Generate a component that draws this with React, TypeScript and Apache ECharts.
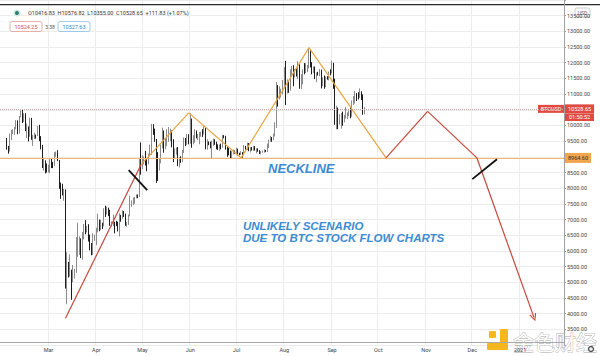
import React, { useEffect, useRef } from 'react';
import * as echarts from 'echarts';

// ---- axis / categories ----
const FIRST_DAY_UTC = Date.UTC(2020, 0, 30);
const DAY_COUNT = 366;
const CANDLE_START = '2020-02-03';
const FIRST_OPEN = 9340;
const MONTHS = ['2021', 'Feb', 'Mar', 'Apr', 'May', 'Jun', 'Jul', 'Aug', 'Sep', 'Oct', 'Nov', 'Dec'];
const Y_MIN = 3000;
const Y_MAX = 14000;
const Y_STEP = 500;

// ---- daily BTCUSD (Feb 3 – Sep 22, 2020) ----
const febClose = [9290, 9180, 9610, 9730, 9800, 9900, 10150, 9850, 10270, 10350, 10240, 10360, 9900, 9930, 9700, 10170, 9600, 9600, 9690, 9670, 9970, 9650, 9320, 8790, 8790, 8690, 8530];
const febHigh = [9600, 9350, 9740, 9860, 9880, 9950, 10170, 10160, 10300, 10480, 10520, 10390, 10390, 10060, 9970, 10250, 10240, 9700, 9770, 9710, 9990, 10020, 9660, 9380, 8970, 8890, 8790];
const febLow = [9230, 9100, 9170, 9530, 9720, 9700, 9880, 9720, 9740, 10260, 10080, 10110, 9820, 9600, 9490, 9640, 9540, 9350, 9570, 9580, 9660, 9500, 9240, 8640, 8560, 8470, 8500];

const marClose = [8530, 8910, 8760, 8750, 9070, 9150, 8900, 8030, 7930, 7900, 7910, 4970, 5560, 5200, 5390, 5010, 5230, 5390, 6190, 6190, 6190, 5830, 6460, 6740, 6680, 6730, 6470, 6240, 5880, 6390, 6410];
const marHigh = [8750, 8950, 8960, 8840, 9150, 9170, 9210, 8900, 8180, 8140, 7980, 7960, 5960, 5650, 5890, 5400, 5550, 5430, 6440, 6900, 6460, 6400, 6600, 6860, 6980, 6790, 6850, 6520, 6250, 6560, 6520];
const marLow = [8500, 8480, 8640, 8640, 8700, 9000, 8860, 7980, 7660, 7770, 7600, 4800, 4300, 5150, 5180, 4440, 5000, 5120, 5300, 5810, 5870, 5770, 5720, 6370, 6530, 6590, 6300, 6020, 5860, 5870, 6320];

const aprClose = [6640, 6790, 6730, 6860, 6790, 7270, 7180, 7340, 7300, 6860, 6880, 6910, 6860, 6840, 6630, 7100, 7040, 7250, 7120, 6830, 6850, 7130, 7480, 7510, 7540, 7700, 7790, 7760, 8790, 8620];
const aprHigh = [6740, 7190, 7000, 6990, 6900, 7360, 7440, 7410, 7380, 7310, 6940, 7160, 6930, 6960, 6930, 7200, 7150, 7300, 7270, 7190, 6920, 7160, 7760, 7610, 7700, 7720, 7800, 7800, 8950, 9460];
const aprLow = [6180, 6590, 6630, 6660, 6700, 6780, 7080, 7160, 7110, 6800, 6780, 6790, 6560, 6790, 6620, 6460, 6930, 7020, 7080, 6800, 6770, 6830, 7100, 7410, 7460, 7500, 7680, 7680, 7720, 8430];

const mayClose = [8830, 8970, 8900, 8880, 9030, 9150, 9990, 9810, 9540, 8730, 8570, 8820, 9320, 9790, 9310, 9380, 9670, 9730, 9780, 9510, 9060, 9170, 9180, 8720, 8900, 8840, 9200, 9580, 9430, 9700, 9450];
const mayHigh = [9050, 9010, 9190, 8950, 9100, 9390, 10050, 10040, 9900, 9570, 9150, 8960, 9400, 9930, 9840, 9600, 9880, 9950, 9900, 9840, 9560, 9270, 9300, 9310, 8980, 9020, 9220, 9620, 9600, 9730, 9720];
const mayLow = [8610, 8760, 8720, 8540, 8760, 9010, 9060, 9700, 9480, 8170, 8230, 8560, 8790, 9270, 9130, 9240, 9340, 9480, 9500, 9300, 8830, 8960, 9070, 8700, 8660, 8810, 8830, 9120, 9340, 9380, 9400];

const junClose = [10200, 9520, 9660, 9800, 9660, 9670, 9750, 9780, 9770, 9880, 9320, 9480, 9470, 9340, 9430, 9520, 9460, 9380, 9300, 9360, 9290, 9680, 9620, 9290, 9250, 9160, 9010, 9120, 9190, 9140];
const junHigh = [10390, 10220, 9690, 9880, 9840, 9730, 9790, 9800, 9880, 9990, 9940, 9560, 9490, 9480, 9510, 9580, 9560, 9480, 9400, 9390, 9420, 9700, 9690, 9670, 9320, 9290, 9200, 9180, 9230, 9200];
const junLow = [9420, 9290, 9400, 9450, 9590, 9530, 9400, 9640, 9630, 9710, 9240, 9230, 9370, 9270, 8950, 9340, 9380, 9240, 9220, 9190, 9240, 9280, 9590, 9230, 9000, 9050, 8960, 8930, 9080, 9100];

const julClose = [9230, 9090, 9070, 9130, 9080, 9340, 9250, 9430, 9240, 9290, 9240, 9300, 9240, 9250, 9190, 9130, 9160, 9170, 9210, 9160, 9390, 9530, 9610, 9550, 9710, 9930, 11030, 10910, 11100, 11110, 11350];
const julHigh = [9290, 9260, 9130, 9180, 9150, 9370, 9350, 9450, 9440, 9310, 9310, 9340, 9340, 9270, 9270, 9210, 9190, 9200, 9240, 9220, 9420, 9550, 9670, 9630, 9740, 10100, 11380, 11290, 11250, 11170, 11450];
const julLow = [9090, 9040, 9050, 9060, 8970, 9070, 9230, 9220, 9180, 9140, 9200, 9190, 9200, 9110, 9160, 9090, 9080, 9130, 9130, 9150, 9150, 9280, 9480, 9480, 9530, 9650, 9920, 10600, 10830, 10890, 10990];

const augClose = [11800, 11070, 11230, 11190, 11740, 11760, 11590, 11750, 11680, 11880, 11410, 11580, 11780, 11770, 11860, 11910, 12280, 11950, 11750, 11870, 11530, 11680, 11650, 11750, 11330, 11470, 11330, 11540, 11470, 11710, 11680];
const augHigh = [11860, 12060, 11470, 11420, 11790, 11900, 11920, 11800, 11810, 12050, 11950, 11640, 11790, 11990, 11980, 11930, 12470, 12400, 12020, 11880, 11880, 11690, 11710, 11800, 11780, 11530, 11590, 11560, 11570, 11720, 11790];
const augLow = [11240, 10650, 11020, 11040, 11110, 11560, 11250, 11530, 11560, 11480, 11170, 11160, 11310, 11630, 11670, 11700, 11820, 11850, 11630, 11670, 11480, 11380, 11590, 11570, 11180, 11250, 11170, 11220, 11460, 11440, 11600];

const sepClose = [11970, 11410, 10170, 10470, 10170, 10260, 10370, 10130, 10230, 10350, 10400, 10440, 10330, 10680, 10790, 10950, 10940, 10930, 11080, 10920, 10416.83, 10528.65];
const sepHigh = [12060, 12000, 11490, 10630, 10570, 10360, 10400, 10440, 10340, 10590, 10420, 10480, 10570, 10800, 10940, 11100, 11030, 11060, 11180, 11090, 10990, 10576.82];
const sepLow = [11660, 11170, 10020, 9880, 9880, 10030, 9900, 9990, 10100, 10220, 10200, 10290, 10230, 10280, 10650, 10700, 10780, 10830, 10880, 10810, 10340, 10355];

// ---- price levels ----
const NECKLINE = 8964.6;
const LAST_PRICE = 10528.65;

// ---- drawn annotation paths: [date, price] ----
const redLeg: [string, number][] = [['2020-03-12', 3850], ['2020-04-30', 8750]];
const orangeLegs: [string, number][] = [['2020-04-30', 8750], ['2020-05-31', 10400], ['2020-07-04', NECKLINE], ['2020-08-17', 12480], ['2020-10-06', NECKLINE]];
const redProjection: [string, number][] = [['2020-10-06', NECKLINE], ['2020-11-02', 10450], ['2020-12-04', NECKLINE], ['2021-01-10', 3880]];
const crossA: [string, number][] = [['2020-04-22', 8573], ['2020-05-04', 7939]];
const crossB: [string, number][] = [['2020-12-01', 8288], ['2020-12-17', 8922]];

const closes = [...febClose, ...marClose, ...aprClose, ...mayClose, ...junClose, ...julClose, ...augClose, ...sepClose];
const highs = [...febHigh, ...marHigh, ...aprHigh, ...mayHigh, ...junHigh, ...julHigh, ...augHigh, ...sepHigh];
const lows = [...febLow, ...marLow, ...aprLow, ...mayLow, ...junLow, ...julLow, ...augLow, ...sepLow];

const days: string[] = [];
for (let i = 0; i < DAY_COUNT; i++) {
  days.push(new Date(FIRST_DAY_UTC + i * 86400000).toISOString().slice(0, 10));
}
const startIdx = days.indexOf(CANDLE_START);
const candleData = days.map((_, i) => {
  const k = i - startIdx;
  if (k < 0 || k >= closes.length) return '-';
  const open = k === 0 ? FIRST_OPEN : closes[k - 1];
  return [open, closes[k], lows[k], highs[k]];
});

const isMonthStart = (v: string) => v.endsWith('-01') && v !== '2020-02-01';

const CHEVRON = 'path://M5,0 L10,8 L8.6,8.8 L5,2.6 L1.4,8.8 L0,8 Z';

function segments(pts: [string, number][], color: string, width: number, arrowAtEnd = false) {
  const out: any[] = [];
  for (let i = 0; i < pts.length - 1; i++) {
    const last = arrowAtEnd && i === pts.length - 2;
    out.push([
      { coord: pts[i], symbol: 'none', lineStyle: { color, width, type: 'solid' }, label: { show: false } },
      last ? { coord: pts[i + 1], symbol: CHEVRON, symbolSize: [7, 8] } : { coord: pts[i + 1], symbol: 'none' },
    ]);
  }
  return out;
}

export default function App() {
  const ref = useRef<HTMLDivElement>(null);
  useEffect(() => {
    document.body.style.margin = '0';
    if (!ref.current) return;
    const chart = echarts.init(ref.current, undefined, { renderer: 'svg' });
    const font = 'Roboto';
    chart.setOption({
      animation: false,
      backgroundColor: '#ffffff',
      grid: { left: 0, right: 36, top: -2, bottom: 11 },
      xAxis: {
        type: 'category',
        data: days,
        boundaryGap: true,
        offset: -3,
        axisLine: { lineStyle: { color: '#a8a8a8' } },
        axisTick: { show: false },
        axisLabel: {
          interval: (_i: number, v: string) => isMonthStart(v),
          formatter: (v: string) => MONTHS[parseInt(v.slice(5, 7), 10) - 1],
          fontSize: 5.5,
          color: '#444',
          margin: 5,
          fontFamily: font,
        },
        splitLine: { show: true, interval: (_i: number, v: string) => isMonthStart(v), lineStyle: { color: '#ececec', width: 1 } },
      },
      yAxis: {
        type: 'value',
        position: 'right',
        min: Y_MIN,
        max: Y_MAX,
        interval: Y_STEP,
        axisLine: { show: true, lineStyle: { color: '#a0a0a0' } },
        axisTick: { show: true, length: 2, lineStyle: { color: '#a0a0a0' } },
        axisLabel: {
          fontSize: 5.5,
          color: '#444',
          margin: 3,
          fontFamily: font,
          formatter: (v: number) => (v === Y_MIN || v === Y_MAX ? '' : v.toFixed(2)),
        },
        splitLine: { lineStyle: { color: '#ececec', width: 1 } },
      },
      series: [
        {
          type: 'candlestick',
          data: candleData,
          barWidth: 1,
          itemStyle: { color: '#8c8c8c', color0: '#1e1e1e', borderColor: '#8c8c8c', borderColor0: '#1e1e1e', borderWidth: 1 },
          markLine: {
            silent: true,
            animation: false,
            symbol: ['none', 'none'],
            data: [
              {
                yAxis: LAST_PRICE,
                lineStyle: { color: '#cfa3a3', width: 1, type: 'dotted' },
                label: { show: true, position: 'end', distance: 1, formatter: LAST_PRICE.toFixed(2), color: '#fff', backgroundColor: '#e04a3f', padding: [1.5, 3, 1.5, 3], fontSize: 5.5, fontFamily: font },
              },
              {
                yAxis: NECKLINE,
                lineStyle: { color: '#f2b872', width: 1, type: 'solid' },
                label: { show: true, position: 'end', distance: 1, formatter: NECKLINE.toFixed(2), color: '#2b2b2b', backgroundColor: '#f3a54e', padding: [2, 3, 2, 3], fontSize: 5.5, fontFamily: font },
              },
              ...segments(redLeg, '#c8473b', 1.2),
              ...segments(orangeLegs, '#e8a541', 1.2),
              ...segments(redProjection, '#c8473b', 1.2, true),
              ...segments(crossA, '#111111', 1.8),
              ...segments(crossB, '#111111', 1.8),
            ],
          },
        },
      ],
    });

    const py = chart.convertToPixel({ yAxisIndex: 0 }, LAST_PRICE) as number;
    const blue = '#3c8bd3';
    chart.setOption({
      graphic: [
        { type: 'rect', shape: { x: 0, y: 4, width: 600, height: 1.3 }, style: { fill: '#2a2a2a' } },
        { type: 'circle', shape: { cx: 17, cy: 13, r: 3.5 }, style: { fill: '#cfe7e1' } },
        { type: 'circle', shape: { cx: 17, cy: 13, r: 2 }, style: { fill: '#2f7f6f' } },
        { type: 'text', x: 28, y: 13, style: { text: 'O10416.83  H10576.82  L10355.00  C10528.65  +111.83 (+1.07%)', fill: '#333', fontSize: 5.5, fontFamily: font, verticalAlign: 'middle' } },
        { type: 'rect', shape: { x: 10, y: 21.5, width: 32, height: 10, r: 2 }, style: { fill: '#fff', stroke: '#e29a95', lineWidth: 0.8 } },
        { type: 'text', x: 26, y: 26.5, style: { text: '10524.25', fill: '#d9534f', fontSize: 5.5, fontFamily: font, align: 'center', verticalAlign: 'middle' } },
        { type: 'text', x: 50, y: 26.5, style: { text: '3.38', fill: '#555', fontSize: 5, fontFamily: font, align: 'center', verticalAlign: 'middle' } },
        { type: 'rect', shape: { x: 58, y: 21.5, width: 32, height: 10, r: 2 }, style: { fill: '#fff', stroke: '#8cc0e0', lineWidth: 0.8 } },
        { type: 'text', x: 74, y: 26.5, style: { text: '10527.63', fill: '#2f8ac4', fontSize: 5.5, fontFamily: font, align: 'center', verticalAlign: 'middle' } },
        { type: 'rect', shape: { x: 575, y: 8, width: 15, height: 9, r: 2 }, style: { fill: '#fff', stroke: '#b8b8b8', lineWidth: 0.7 } },
        { type: 'text', x: 582.5, y: 12.5, style: { text: 'USD', fill: '#555', fontSize: 5, fontFamily: font, align: 'center', verticalAlign: 'middle' } },
        { type: 'rect', shape: { x: 538, y: py - 4, width: 26, height: 8 }, style: { fill: '#e04a3f' } },
        { type: 'text', x: 551, y: py, style: { text: 'BTCUSD', fill: '#fff', fontSize: 5.5, fontFamily: font, align: 'center', verticalAlign: 'middle' } },
        { type: 'rect', shape: { x: 565, y: py + 4.6, width: 29, height: 7.5 }, style: { fill: '#e04a3f' } },
        { type: 'text', x: 579.5, y: py + 8.4, style: { text: '01:50:52', fill: '#fff', fontSize: 5.5, fontFamily: font, align: 'center', verticalAlign: 'middle' } },
        { type: 'text', x: 268, y: 168, style: { text: 'NECKLINE', fill: blue, fontSize: 13, fontWeight: 'bold', fontStyle: 'italic', fontFamily: 'Liberation Sans', verticalAlign: 'middle' } },
        { type: 'text', x: 243, y: 226, style: { text: 'UNLIKELY SCENARIO', fill: blue, fontSize: 11.5, fontWeight: 'bold', fontStyle: 'italic', fontFamily: 'Liberation Sans', verticalAlign: 'middle' } },
        { type: 'text', x: 243, y: 238, style: { text: 'DUE TO BTC STOCK FLOW CHARTS', fill: blue, fontSize: 11.5, fontWeight: 'bold', fontStyle: 'italic', fontFamily: 'Liberation Sans', verticalAlign: 'middle' } },
        { type: 'rect', shape: { x: 489, y: 331, width: 7, height: 7, r: 1 }, style: { fill: '#f5b61e' } },
        { type: 'rect', shape: { x: 500, y: 329, width: 8, height: 21, r: 1 }, style: { fill: '#f5b61e' } },
        { type: 'rect', shape: { x: 487, y: 343, width: 21, height: 7, r: 1 }, style: { fill: '#f5b61e' } },
        { type: 'text', x: 513, y: 341, style: { text: '金色财经', fill: '#ffffff', stroke: '#a9a9a9', lineWidth: 0.8, fontSize: 21, fontFamily: 'Noto Sans CJK SC', verticalAlign: 'middle' } },
        { type: 'ring', shape: { cx: 591, cy: 349, r: 3.2, r0: 1.8 }, style: { fill: '#555' } },
      ],
    });
    return () => chart.dispose();
  }, []);
  return <div ref={ref} style={{ width: 600, height: 356 }} />;
}
